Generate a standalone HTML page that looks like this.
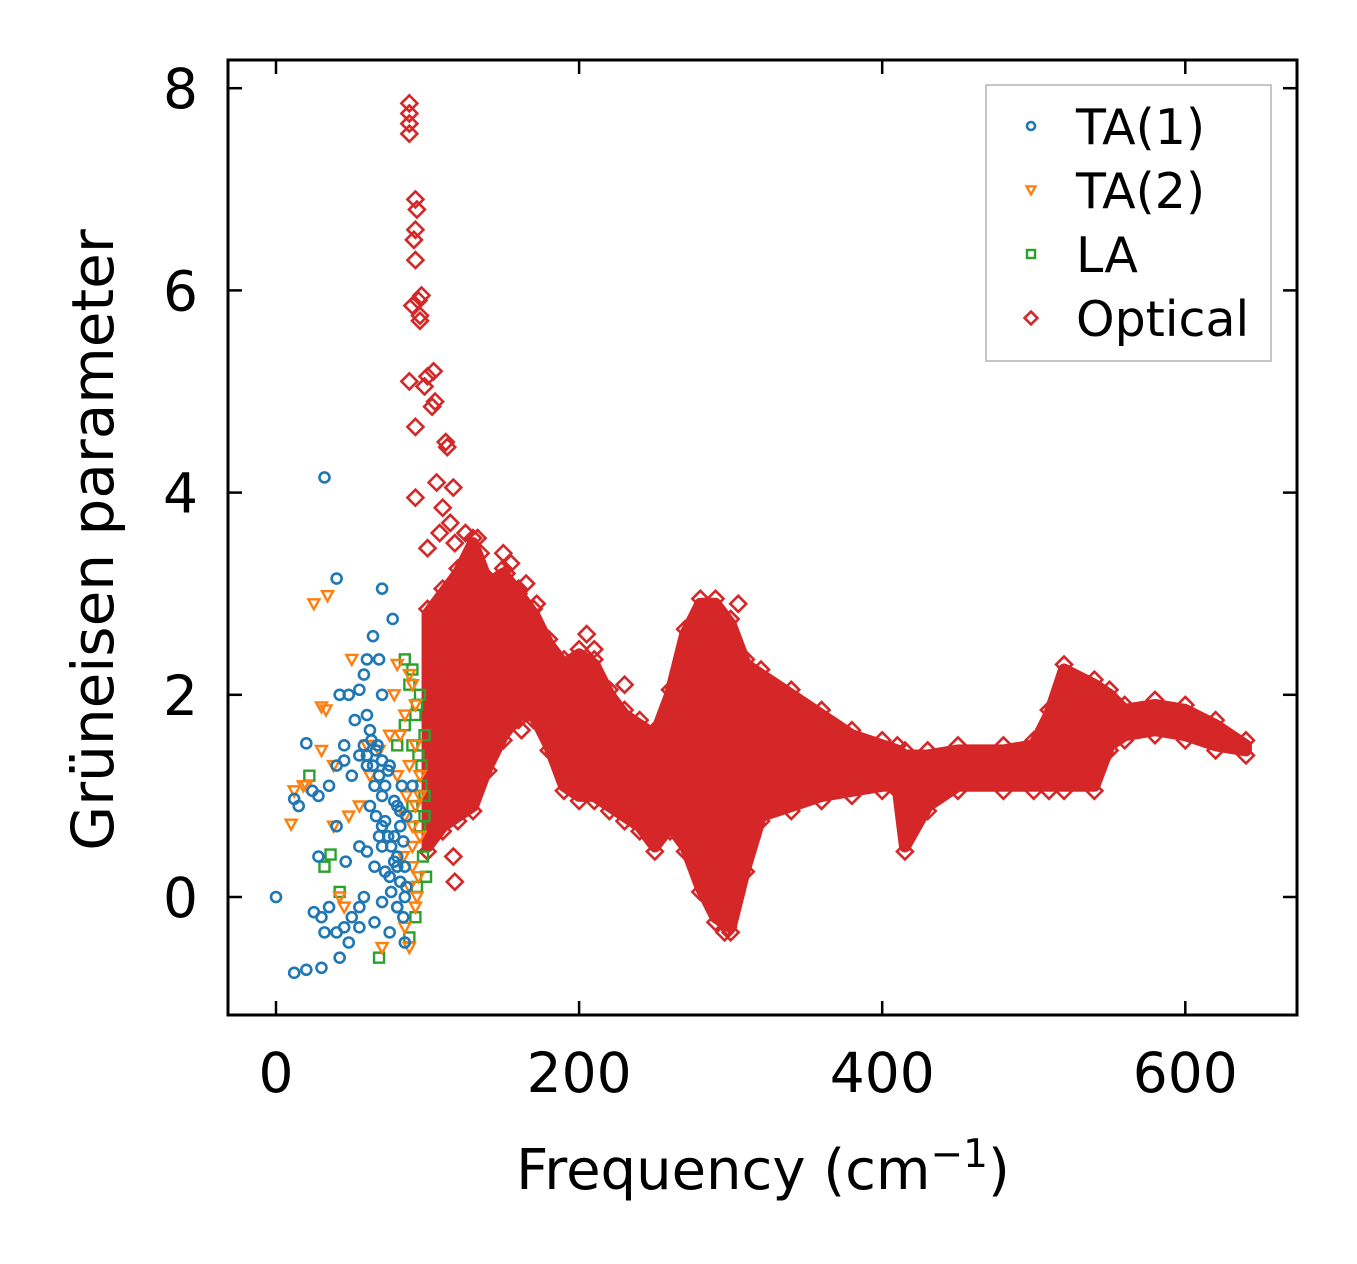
<!DOCTYPE html>
<html><head><meta charset="utf-8"><style>
html,body{margin:0;padding:0;background:#fff;}
svg{display:block;font-family:"DejaVu Sans","Liberation Sans",sans-serif;}
</style></head><body>
<svg id="chart" width="1357" height="1264" viewBox="0 0 1357 1264" xmlns="http://www.w3.org/2000/svg">
<g id="plot"></g>
<g id="axes"></g>
</svg>
<script>
const xTicks=[0,200,400,600];
const yTicks=[0,2,4,6,8];
// optical band envelope: frequency, lower, upper
const bandFreq=[100,110,120,130,140,150,160,170,180,190,200,210,220,230,240,250,260,270,280,290,300,310,320,340,360,380,400,410,415,430,450,480,500,510,520,540,550,560,580,600,620,640];
const bandLo=[0.5,0.7,0.8,0.9,1.3,1.6,1.8,1.8,1.5,1.1,1.0,1.0,0.9,0.8,0.7,0.5,0.7,0.5,0.1,-0.2,-0.3,0.3,0.8,0.9,1.0,1.05,1.1,1.1,0.5,0.9,1.1,1.1,1.1,1.1,1.1,1.1,1.5,1.6,1.65,1.6,1.5,1.45];
const bandHi=[2.8,3.0,3.2,3.5,3.1,3.2,3.0,2.8,2.5,2.3,2.4,2.3,2.0,1.8,1.7,1.6,2.0,2.6,2.9,2.9,2.7,2.3,2.2,2.0,1.8,1.6,1.5,1.45,1.4,1.4,1.45,1.45,1.5,1.8,2.25,2.1,2.0,1.85,1.9,1.85,1.7,1.5];
const optF=[88,88,88,88,92,93,92,91,92,94,95,90,88,96,95,92,100,98,104,103,105,92,112,113,100,106,110,108,115,118,117,125,130,133,135,150,155,152,160,165,172,205,210,230,200,117,118,162,305,298,292,296];
const optG=[7.85,7.75,7.65,7.55,6.9,6.8,6.6,6.5,6.3,5.9,5.75,5.85,5.1,5.95,5.7,4.65,5.15,5.05,5.2,4.85,4.9,3.95,4.5,4.45,3.45,4.1,3.85,3.6,3.7,3.5,4.05,3.6,3.3,3.55,3.4,3.4,3.3,3.2,3.0,3.1,2.9,2.6,2.45,2.1,2.2,0.4,0.15,1.65,2.9,-0.3,-0.2,-0.35];
const ta1F=[32,40,70,77,64,60,68,58,55,42,48,70,20,45,58,60,52,62,12,15,24,28,35,40,45,50,55,60,65,70,62,72,78,80,85,75,70,65,60,58,55,50,45,40,35,30,25,32,42,30,20,12,48,55,65,75,85,80,85,70,40,28,46,83,80,90,0,55,68,75,82,66,70,74,78,82,86,68,72,76,80,84,64,66,70,74,78,82,86,72,76,80,84,60,63,67];
const ta1G=[4.15,3.15,3.05,2.75,2.58,2.35,2.35,2.2,2.05,2.0,2.0,2.0,1.52,1.5,1.5,1.8,1.75,1.65,0.97,0.9,1.05,1.0,1.1,1.3,1.35,1.2,1.4,1.3,1.1,1.0,0.9,0.75,0.6,0.4,0.3,0.2,0.5,0.3,0.45,0.0,-0.1,-0.2,-0.3,-0.35,-0.1,-0.2,-0.15,-0.35,-0.6,-0.7,-0.72,-0.75,-0.45,-0.3,-0.25,-0.35,-0.45,-0.1,0.0,-0.05,0.7,0.4,0.35,1.1,0.9,1.1,0.0,0.5,0.6,1.3,0.7,1.45,1.35,1.25,0.95,0.85,0.8,1.2,1.1,0.5,0.3,0.55,1.3,0.8,0.7,0.6,0.35,0.15,0.1,0.25,0.05,-0.1,-0.2,1.4,1.55,1.5];
const ta2F=[25,34,30,33,50,38,30,12,10,18,20,62,68,60,75,88,80,90,78,85,92,95,88,92,95,90,93,85,88,70,45,42,38,80,85,90,95,82,92,48,55,86,90,94,88,92,84];
const ta2G=[2.9,2.98,1.88,1.85,2.35,1.3,1.45,1.05,0.72,1.1,1.1,1.2,1.45,1.5,1.6,2.2,2.3,2.1,2.0,1.8,1.5,1.2,1.3,0.9,0.6,0.3,0.0,-0.3,-0.5,-0.5,-0.1,0.0,0.7,1.2,0.8,0.7,1.0,1.6,1.9,0.8,0.9,1.0,0.5,0.2,0.1,-0.1,0.4];
const laF=[85,90,88,95,92,98,90,96,98,95,97,93,92,88,68,32,36,22,42,80,85,94,98,90,96,93,99];
const laG=[2.35,2.25,2.1,2.0,1.8,1.6,1.5,1.3,1.0,0.7,0.4,0.1,-0.2,-0.4,-0.6,0.3,0.42,1.2,0.05,1.5,1.7,1.4,0.8,0.9,1.1,1.9,0.2];

const L=228,R=1297,T=60,B=1015;
const xs=f=>276+f*1.5155;
const ys=g=>897-g*101.1;
const NS='http://www.w3.org/2000/svg';
const plot=document.getElementById('plot');
const axes=document.getElementById('axes');
function mk(tag,attrs,parent){const e=document.createElementNS(NS,tag);for(const k in attrs)e.setAttribute(k,attrs[k]);parent.appendChild(e);return e;}
const C={b:'#1f77b4',o:'#ff7f0e',g:'#2ca02c',r:'#d62728'};
function marker(type,cx,cy,parent,s){
  let e;
  if(type==='circle') e=mk('circle',{cx:cx,cy:cy,r:5*s,fill:'none',stroke:C.b,'stroke-width':2.6},parent);
  else if(type==='tri') e=mk('path',{d:`M${cx-5.5*s},${cy-4.5*s}L${cx+5.5*s},${cy-4.5*s}L${cx},${cy+5.5*s}Z`,fill:'none',stroke:C.o,'stroke-width':2.4},parent);
  else if(type==='sq') e=mk('rect',{x:cx-5*s,y:cy-5*s,width:10*s,height:10*s,fill:'none',stroke:C.g,'stroke-width':2.4},parent);
  else e=mk('path',{d:`M${cx},${cy-8*s}L${cx+8*s},${cy}L${cx},${cy+8*s}L${cx-8*s},${cy}Z`,fill:'none',stroke:C.r,'stroke-width':2.6},parent);
  return e;
}
// optical band
let d='';
bandFreq.forEach((f,i)=>{d+=(i?'L':'M')+xs(f)+','+ys(bandHi[i]);});
for(let i=bandFreq.length-1;i>=0;i--) d+='L'+xs(bandFreq[i])+','+ys(bandLo[i]);
d+='Z';
const band=mk('path',{d:d,fill:C.r,stroke:C.r,'stroke-width':12,'stroke-linejoin':'round'},plot);


bandFreq.forEach((f,i)=>{
  const a=marker('dia',xs(f),ys(bandHi[i])-5,plot,1);
  
  
  const b=marker('dia',xs(f),ys(bandLo[i])+5,plot,1);
  
  
});
optF.forEach((f,i)=>{const e=marker('dia',xs(f),ys(optG[i]),plot,1);
  
  });
laF.forEach((f,i)=>{const e=marker('sq',xs(f),ys(laG[i]),plot,1);
  
  });
ta2F.forEach((f,i)=>{const e=marker('tri',xs(f),ys(ta2G[i]),plot,1);
  
  });
ta1F.forEach((f,i)=>{const e=marker('circle',xs(f),ys(ta1G[i]),plot,1);
  
  });

// frame
const fr=mk('rect',{x:L,y:T,width:R-L,height:B-T,fill:'none',stroke:'#000','stroke-width':3},axes);


xTicks.forEach(v=>{
  const x=xs(v);
  mk('line',{x1:x,y1:B,x2:x,y2:B-14,stroke:'#000','stroke-width':2.5},axes);
  mk('line',{x1:x,y1:T,x2:x,y2:T+14,stroke:'#000','stroke-width':2.5},axes);
  const t=mk('text',{x:x,y:1092,'text-anchor':'middle','font-size':55},axes);
  t.textContent=v;
  
  
});
yTicks.forEach(v=>{
  const y=ys(v);
  mk('line',{x1:L,y1:y,x2:L+14,y2:y,stroke:'#000','stroke-width':2.5},axes);
  mk('line',{x1:R,y1:y,x2:R-14,y2:y,stroke:'#000','stroke-width':2.5},axes);
  const t=mk('text',{x:198,y:y+20,'text-anchor':'end','font-size':55},axes);
  t.textContent=v;
  
  
});
const xt=mk('text',{x:763,y:1189,'text-anchor':'middle','font-size':56},axes);
xt.innerHTML='Frequency (cm<tspan dy="-22" font-size="39">−1</tspan><tspan dy="22">)</tspan>';


const yt=mk('text',{x:0,y:0,'text-anchor':'middle','font-size':58,transform:'translate(113,540) rotate(-90)'},axes);
yt.textContent='Grüneisen parameter';



// legend
const lg=mk('g',{},axes);


mk('rect',{x:986,y:85,width:285,height:276,fill:'#fff',stroke:'#aaa','stroke-width':1.5,opacity:0.9},lg);
const labels=['TA(1)','TA(2)','LA','Optical'];
const types=['circle','tri','sq','dia'];
labels.forEach((s,i)=>{
  const y=126+i*64;
  const g=mk('g',{},lg);
  
  
  marker(types[i],1031,y,g,0.8);
  const t=mk('text',{x:1076,y:y+18,'font-size':49},g);
  t.textContent=s;
});
</script>
</body></html>
